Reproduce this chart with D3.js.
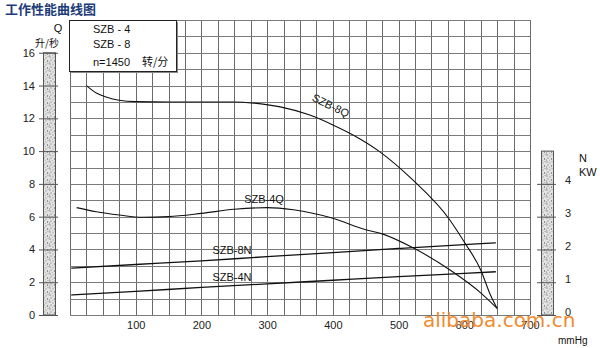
<!DOCTYPE html>
<html>
<head>
<meta charset="utf-8">
<script src="https://cdn.jsdelivr.net/npm/d3@7"></script>
<style>
  body { margin: 0; background: #fff; }
  svg { display: block; font-family: 'Liberation Sans', Arial, sans-serif; }
</style>
</head>
<body>
<div id="chart-area"></div>
<script>
// pressure in mmHg vs flow (L/s) and shaft power (kW)
var xTicks = [100, 200, 300, 400, 500, 600, 700]
var qTicks = [0, 2, 4, 6, 8, 10, 12, 14, 16]
var nTicks = [0, 1, 2, 3, 4]

var szb8Q = [[25, 14.0], [40, 13.55], [55, 13.3], [75, 13.1], [100, 13.02], [150, 13.0],
  [200, 13.0], [250, 13.0], [280, 12.93], [320, 12.7], [365, 12.2], [400, 11.6],
  [430, 11.0], [470, 10.0], [520, 8.3], [578, 5.8], [600, 4.45], [625, 2.75],
  [640, 1.2], [650, 0.4]]
var szb4Q = [[10, 6.55], [40, 6.3], [75, 6.1], [110, 5.96], [150, 6.0], [200, 6.2],
  [250, 6.45], [300, 6.55], [340, 6.42], [400, 5.9], [450, 5.2], [475, 4.95],
  [522, 4.1], [580, 2.7], [625, 1.35], [650, 0.4]]
var szb8N = [[2, 1.43], [100, 1.54], [200, 1.65], [300, 1.78], [400, 1.9],
  [500, 2.03], [600, 2.15], [648, 2.2]]
var szb4N = [[2, 0.61], [100, 0.72], [200, 0.84], [300, 0.95], [400, 1.06],
  [500, 1.17], [600, 1.27], [648, 1.32]]

var legendLines = ['SZB - 4', 'SZB - 8']

var width = 600
var height = 348

var x = d3.scaleLinear().domain([0, 700]).range([70, 530])
var y = d3.scaleLinear().domain([0, 18]).range([315, 20])
var yN = d3.scaleLinear().domain([0, 9]).range([315, 20])

var svg = d3.select('#chart-area')
  .append('svg')
  .attr('width', width)
  .attr('height', height)

// speckled fill for the scale bars
var pattern = svg.append('defs')
  .append('pattern')
  .attr('id', 'speckle')
  .attr('patternUnits', 'userSpaceOnUse')
  .attr('width', 7)
  .attr('height', 7)
pattern.append('rect')
  .attr('width', 7)
  .attr('height', 7)
  .attr('fill', '#e4e4e4')
var dots = [[1, 1, '#777'], [4, 2, '#999'], [2, 4, '#888'], [5.5, 5, '#666'], [6, 0.5, '#aaa'], [0.5, 6, '#999'], [3.5, 6.5, '#bbb']]
dots.forEach(function (d) {
  pattern.append('circle')
    .attr('cx', d[0])
    .attr('cy', d[1])
    .attr('r', 0.7)
    .attr('fill', d[2])
})

// grid
var grid = svg.append('g').attr('class', 'grid')
grid.selectAll('.vline')
  .data(d3.range(0, 701, 25))
  .enter().append('line')
  .attr('x1', function (d) { return Math.round(x(d)) + 0.5 })
  .attr('x2', function (d) { return Math.round(x(d)) + 0.5 })
  .attr('y1', y(18))
  .attr('y2', y(0))
  .attr('stroke', '#6a6a6a')
  .attr('stroke-width', 1)
grid.selectAll('.hline')
  .data(d3.range(0, 19, 1))
  .enter().append('line')
  .attr('x1', x(0))
  .attr('x2', x(700))
  .attr('y1', function (d) { return Math.round(y(d)) + 0.5 })
  .attr('y2', function (d) { return Math.round(y(d)) + 0.5 })
  .attr('stroke', '#7a7a7a')
  .attr('stroke-width', 1)

// left scale bar
svg.append('rect')
  .attr('x', 43.5)
  .attr('y', y(16))
  .attr('width', 12)
  .attr('height', y(0) - y(16))
  .attr('fill', 'url(#speckle)')
  .attr('stroke', '#555')
  .attr('stroke-width', 1)

var leftAxis = svg.append('g')
  .attr('transform', 'translate(58,0)')
  .call(d3.axisLeft(y).tickValues(qTicks).tickSize(19).tickPadding(4))
leftAxis.select('.domain').remove()
leftAxis.selectAll('line').attr('stroke', '#555')
leftAxis.selectAll('text')
  .attr('font-size', 11)
  .attr('fill', '#222')
  .attr('font-family', "'Liberation Sans', Arial, sans-serif")

// right scale bar
svg.append('rect')
  .attr('x', 541.5)
  .attr('y', yN(5))
  .attr('width', 12)
  .attr('height', yN(0) - yN(5))
  .attr('fill', 'url(#speckle)')
  .attr('stroke', '#555')
  .attr('stroke-width', 1)

var rightAxis = svg.append('g')
  .attr('transform', 'translate(537,0)')
  .call(d3.axisRight(yN).tickValues(nTicks).tickSize(19).tickPadding(9))
rightAxis.select('.domain').remove()
rightAxis.selectAll('line').attr('stroke', '#555')
rightAxis.selectAll('text')
  .attr('font-size', 11)
  .attr('fill', '#222')
  .attr('dy', '0.0em')
  .attr('font-family', "'Liberation Sans', Arial, sans-serif")

// bottom axis
var bottomAxis = svg.append('g')
  .attr('transform', 'translate(0,' + y(0) + ')')
  .call(d3.axisBottom(x).tickValues(xTicks).tickSize(0).tickPadding(6))
bottomAxis.select('.domain').remove()
bottomAxis.selectAll('text')
  .attr('font-size', 11)
  .attr('fill', '#222')
  .attr('font-family', "'Liberation Sans', Arial, sans-serif")

// curves
var lineQ = d3.line()
  .x(function (d) { return x(d[0]) })
  .y(function (d) { return y(d[1]) })
  .curve(d3.curveMonotoneX)
var lineN = d3.line()
  .x(function (d) { return x(d[0]) })
  .y(function (d) { return yN(d[1]) })
  .curve(d3.curveMonotoneX)

svg.append('path').datum(szb8Q).attr('d', lineQ)
  .attr('fill', 'none').attr('stroke', '#111').attr('stroke-width', 1.1)
svg.append('path').datum(szb4Q).attr('d', lineQ)
  .attr('fill', 'none').attr('stroke', '#111').attr('stroke-width', 1.1)
svg.append('path').datum(szb8N).attr('d', lineN)
  .attr('fill', 'none').attr('stroke', '#111').attr('stroke-width', 1.3)
svg.append('path').datum(szb4N).attr('d', lineN)
  .attr('fill', 'none').attr('stroke', '#111').attr('stroke-width', 1.3)

// curve labels
var labelFont = 11
svg.append('text')
  .attr('transform', 'translate(329,109) rotate(26)')
  .attr('text-anchor', 'middle')
  .attr('font-size', labelFont)
  .attr('fill', '#111')
  .text('SZB-8Q')
svg.append('text')
  .attr('x', 264)
  .attr('y', 203)
  .attr('text-anchor', 'middle')
  .attr('font-size', labelFont)
  .attr('fill', '#111')
  .text('SZB-4Q')
svg.append('text')
  .attr('x', 232)
  .attr('y', 254)
  .attr('text-anchor', 'middle')
  .attr('font-size', labelFont)
  .attr('fill', '#111')
  .text('SZB-8N')
svg.append('text')
  .attr('x', 232)
  .attr('y', 281)
  .attr('text-anchor', 'middle')
  .attr('font-size', labelFont)
  .attr('fill', '#111')
  .text('SZB-4N')

// legend box
svg.append('rect')
  .attr('x', 71)
  .attr('y', 22)
  .attr('width', 107)
  .attr('height', 51)
  .attr('fill', '#888')
svg.append('rect')
  .attr('x', 69.5)
  .attr('y', 20.5)
  .attr('width', 107)
  .attr('height', 51)
  .attr('fill', '#fff')
  .attr('stroke', '#222')
  .attr('stroke-width', 1)
svg.selectAll('.legend-line')
  .data(legendLines)
  .enter().append('text')
  .attr('x', 93)
  .attr('y', function (d, i) { return 33 + i * 15 })
  .attr('font-size', 11)
  .attr('fill', '#111')
  .text(function (d) { return d })
svg.append('text')
  .attr('x', 93)
  .attr('y', 66)
  .attr('font-size', 11)
  .attr('fill', '#111')
  .text('n=1450')
svg.append('text')
  .attr('x', 142)
  .attr('y', 66)
  .attr('font-size', 11)
  .attr('fill', '#111')
  .attr('font-family', "'Noto Sans CJK SC', sans-serif")
  .text('转/分')

// axis titles
svg.append('text')
  .attr('x', 58)
  .attr('y', 32)
  .attr('text-anchor', 'middle')
  .attr('font-size', 11)
  .attr('fill', '#111')
  .text('Q')
svg.append('text')
  .attr('x', 47)
  .attr('y', 47)
  .attr('text-anchor', 'middle')
  .attr('font-size', 10)
  .attr('fill', '#111')
  .attr('font-family', "'Noto Sans CJK SC', sans-serif")
  .text('升/秒')
svg.append('text')
  .attr('x', 579)
  .attr('y', 162)
  .attr('font-size', 11)
  .attr('fill', '#111')
  .text('N')
svg.append('text')
  .attr('x', 579)
  .attr('y', 176)
  .attr('font-size', 11)
  .attr('fill', '#111')
  .text('KW')
svg.append('text')
  .attr('x', 558)
  .attr('y', 344)
  .attr('font-size', 10)
  .attr('fill', '#111')
  .text('mmHg')

// title
svg.append('text')
  .attr('x', 5)
  .attr('y', 14)
  .attr('font-size', 13)
  .attr('font-weight', 'bold')
  .attr('fill', '#1d3c78')
  .attr('font-family', "'Noto Sans CJK SC', sans-serif")
  .text('工作性能曲线图')

// watermark
svg.append('text')
  .attr('x', 423)
  .attr('y', 327)
  .attr('font-size', 20)
  .attr('fill', '#f28a2e')
  .attr('font-family', "'DejaVu Sans', sans-serif")
  .text('alibaba.com.cn')
</script>
</body>
</html>
